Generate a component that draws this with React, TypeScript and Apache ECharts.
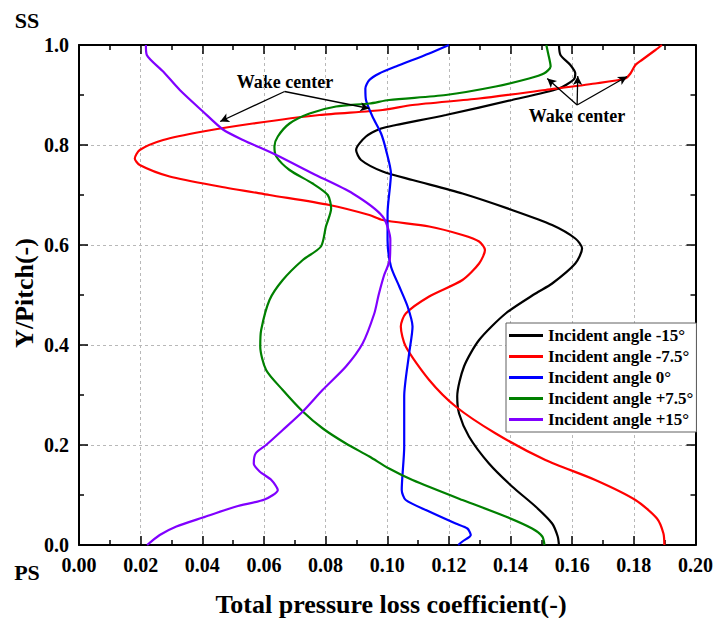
import React, { useEffect, useRef } from "react";
import * as echarts from "echarts";

// Y/Pitch positions (top = suction side, bottom = pressure side) and loss values per incidence
const pitchNeg15 = [1.0, 0.98, 0.96, 0.943, 0.931, 0.913, 0.89, 0.86, 0.84, 0.833, 0.817, 0.79, 0.77, 0.747, 0.73, 0.703, 0.67, 0.64, 0.613, 0.593, 0.563, 0.523, 0.503, 0.463, 0.41, 0.357, 0.297, 0.263, 0.217, 0.163, 0.117, 0.077, 0.043, 0.017, 0.0];
const lossNeg15 = [0.1557, 0.1562, 0.1594, 0.161, 0.1605, 0.1557, 0.1405, 0.119, 0.1028, 0.098, 0.0931, 0.0899, 0.0915, 0.0985, 0.1082, 0.1244, 0.1405, 0.1535, 0.161, 0.1632, 0.161, 0.1535, 0.1481, 0.1384, 0.1298, 0.1249, 0.1227, 0.1233, 0.1265, 0.133, 0.1405, 0.1481, 0.1535, 0.1553, 0.1557];

const pitchNeg75 = [1.0, 0.99, 0.97, 0.96, 0.943, 0.933, 0.923, 0.91, 0.893, 0.88, 0.87, 0.86, 0.843, 0.827, 0.81, 0.79, 0.773, 0.76, 0.737, 0.717, 0.7, 0.68, 0.66, 0.65, 0.637, 0.62, 0.607, 0.59, 0.563, 0.53, 0.497, 0.463, 0.437, 0.397, 0.33, 0.277, 0.223, 0.17, 0.13, 0.09, 0.053, 0.023, 0.0];
const lossNeg75 = [0.1891, 0.187, 0.1826, 0.1805, 0.1789, 0.1772, 0.1675, 0.1513, 0.1298, 0.1082, 0.0985, 0.078, 0.0564, 0.0402, 0.0273, 0.0197, 0.0181, 0.0197, 0.0294, 0.0456, 0.0618, 0.0812, 0.0942, 0.0985, 0.1136, 0.1244, 0.1298, 0.1317, 0.1298, 0.1244, 0.1136, 0.106, 0.1044, 0.106, 0.1136, 0.1222, 0.1352, 0.1513, 0.1675, 0.1805, 0.1875, 0.1896, 0.1899];

const pitchZero = [1.0, 0.983, 0.957, 0.943, 0.93, 0.913, 0.89, 0.857, 0.823, 0.79, 0.743, 0.663, 0.61, 0.557, 0.517, 0.477, 0.437, 0.383, 0.297, 0.197, 0.11, 0.09, 0.067, 0.043, 0.033, 0.02, 0.007, 0.0];
const lossZero = [0.12, 0.1136, 0.1028, 0.0974, 0.0942, 0.0929, 0.0931, 0.0952, 0.098, 0.0996, 0.1012, 0.1001, 0.1001, 0.1012, 0.1039, 0.1066, 0.1082, 0.1071, 0.1055, 0.1055, 0.1047, 0.106, 0.1136, 0.1222, 0.126, 0.1271, 0.1244, 0.123];

const pitchPos75 = [1.0, 0.983, 0.957, 0.943, 0.933, 0.917, 0.9, 0.89, 0.883, 0.877, 0.863, 0.843, 0.817, 0.797, 0.777, 0.75, 0.723, 0.7, 0.673, 0.637, 0.597, 0.57, 0.53, 0.49, 0.43, 0.397, 0.35, 0.31, 0.267, 0.233, 0.203, 0.177, 0.153, 0.13, 0.09, 0.057, 0.033, 0.017, 0.0];
const lossPos75 = [0.1516, 0.1522, 0.153, 0.1508, 0.146, 0.1352, 0.119, 0.1006, 0.0942, 0.0834, 0.0748, 0.0683, 0.0645, 0.0634, 0.064, 0.0683, 0.0758, 0.0807, 0.0818, 0.0801, 0.0785, 0.0726, 0.0661, 0.0618, 0.0591, 0.0588, 0.0607, 0.0661, 0.0726, 0.0791, 0.0866, 0.0942, 0.1006, 0.1082, 0.1244, 0.1384, 0.147, 0.1503, 0.151];

const pitchPos15 = [1.0, 0.98, 0.947, 0.91, 0.867, 0.831, 0.81, 0.78, 0.743, 0.703, 0.657, 0.61, 0.57, 0.54, 0.5, 0.463, 0.403, 0.357, 0.31, 0.267, 0.23, 0.2, 0.183, 0.163, 0.147, 0.13, 0.11, 0.091, 0.077, 0.055, 0.037, 0.02, 0.0];
const lossPos15 = [0.0217, 0.022, 0.0273, 0.0327, 0.0402, 0.0467, 0.0532, 0.064, 0.0758, 0.0888, 0.0985, 0.101, 0.1008, 0.099, 0.0972, 0.0958, 0.092, 0.0866, 0.079, 0.0726, 0.0661, 0.0607, 0.0573, 0.0567, 0.0586, 0.0624, 0.0645, 0.0602, 0.051, 0.0402, 0.0316, 0.0262, 0.0221];

const seriesNames = [
  "Incident angle -15°",
  "Incident angle -7.5°",
  "Incident angle 0°",
  "Incident angle +7.5°",
  "Incident angle +15°",
];
const seriesColors = ["#000000", "#ff0000", "#0000ff", "#008000", "#8000ff"];

// Arrow segments pointing at the wake centres, in [loss, pitch] units
const wakeArrowsLeft = [
  [[0.0667, 0.907], [0.0458, 0.847]],
  [[0.0667, 0.907], [0.0942, 0.873]],
];
const wakeArrowsRight = [
  [[0.1616, 0.88], [0.1519, 0.933]],
  [[0.1616, 0.88], [0.1618, 0.938]],
  [[0.1616, 0.88], [0.1778, 0.937]],
];
const wakeLabel = "Wake center";
const xTitle = "Total pressure loss coefficient(-)";
const yTitle = "Y/Pitch(-)";

const FONT = "'Liberation Serif', 'Times New Roman', serif";

function pairs(xs: number[], ys: number[]) {
  return xs.map((x, i) => [x, ys[i]]);
}

function label(text: string, x: number, y: number, size: number, rotation = 0) {
  return {
    type: "text",
    x,
    y,
    rotation,
    style: {
      text,
      fontFamily: FONT,
      fontWeight: "bold",
      fontSize: size,
      fill: "#000",
      align: "center",
      verticalAlign: "middle",
    },
  };
}

export default function App() {
  const ref = useRef<HTMLDivElement>(null);

  useEffect(() => {
    if (!ref.current) return;
    const chart = echarts.init(ref.current, null, { renderer: "svg" });

    const datasets = [
      pairs(lossNeg15, pitchNeg15),
      pairs(lossNeg75, pitchNeg75),
      pairs(lossZero, pitchZero),
      pairs(lossPos75, pitchPos75),
      pairs(lossPos15, pitchPos15),
    ];

    const arrowData = [...wakeArrowsLeft, ...wakeArrowsRight].map(([a, b]) => [
      { coord: a },
      { coord: b },
    ]);

    const tickStyle = { color: "#000", width: 1.5 };
    const gridLine = { show: true, lineStyle: { color: "#b8b8b8", type: [3, 3] as any, width: 1 } };
    const frameLine = { show: true, onZero: false, lineStyle: { color: "#000", width: 2 } };
    const labelFont = { fontFamily: FONT, fontWeight: "bold", fontSize: 20, color: "#000" };

    chart.setOption({
      animation: false,
      backgroundColor: "#ffffff",
      grid: { left: 79, top: 45, width: 618, height: 500, containLabel: false },
      xAxis: [
        {
          type: "value",
          min: 0,
          max: 0.2,
          interval: 0.02,
          position: "bottom",
          axisLine: frameLine,
          axisTick: { show: true, inside: true, length: 9, lineStyle: tickStyle },
          minorTick: { show: true, splitNumber: 2, length: 5, lineStyle: tickStyle },
          axisLabel: { ...labelFont, margin: 10, formatter: (v: number) => v.toFixed(2) },
          splitLine: gridLine,
        },
        {
          type: "value",
          min: 0,
          max: 0.2,
          interval: 0.02,
          position: "top",
          axisLine: frameLine,
          axisTick: { show: true, inside: true, length: 9, lineStyle: tickStyle },
          minorTick: { show: true, splitNumber: 2, length: 5, lineStyle: tickStyle },
          axisLabel: { show: false },
          splitLine: { show: false },
        },
      ],
      yAxis: [
        {
          type: "value",
          min: 0,
          max: 1,
          interval: 0.2,
          position: "left",
          axisLine: frameLine,
          axisTick: { show: true, inside: true, length: 9, lineStyle: tickStyle },
          minorTick: { show: true, splitNumber: 2, length: 5, lineStyle: tickStyle },
          axisLabel: { ...labelFont, margin: 10, formatter: (v: number) => v.toFixed(1) },
          splitLine: gridLine,
        },
        {
          type: "value",
          min: 0,
          max: 1,
          interval: 0.2,
          position: "right",
          axisLine: frameLine,
          axisTick: { show: true, inside: true, length: 9, lineStyle: tickStyle },
          minorTick: { show: true, splitNumber: 2, length: 5, lineStyle: tickStyle },
          axisLabel: { show: false },
          splitLine: { show: false },
        },
      ],
      legend: {
        orient: "vertical",
        left: 506,
        top: 323,
        icon: "rect",
        itemWidth: 34,
        itemHeight: 3,
        itemGap: 4,
        itemStyle: { borderWidth: 0 },
        padding: [4, 3, 4, 3],
        borderColor: "#606060",
        borderWidth: 1,
        backgroundColor: "#ffffff",
        textStyle: { fontFamily: FONT, fontWeight: "bold", fontSize: 17, color: "#000" },
        data: seriesNames,
      },
      graphic: [
        label(wakeLabel, 285, 82, 18),
        label(wakeLabel, 577, 116, 18),
        label("SS", 27, 20, 22),
        label("PS", 27, 572, 22),
        label(xTitle, 391, 604, 26),
        label(yTitle, 24, 293, 26, Math.PI / 2),
      ],
      series: datasets.map((data, i) => ({
        name: seriesNames[i],
        type: "line",
        data,
        symbol: "none",
        smooth: 0.25,
        clip: true,
        lineStyle: { color: seriesColors[i], width: 2.2 },
        itemStyle: { color: seriesColors[i] },
        z: 3,
        ...(i === 0
          ? {
              markLine: {
                silent: true,
                symbol: ["none", "arrow"],
                symbolSize: [7, 9],
                label: { show: false },
                lineStyle: { color: "#000", width: 1.3, type: "solid" },
                data: arrowData,
              },
            }
          : {}),
      })),
    });

    return () => chart.dispose();
  }, []);

  return (
    <div
      ref={ref}
      style={{ position: "fixed", left: 0, top: 0, width: 716, height: 618 }}
    />
  );
}
